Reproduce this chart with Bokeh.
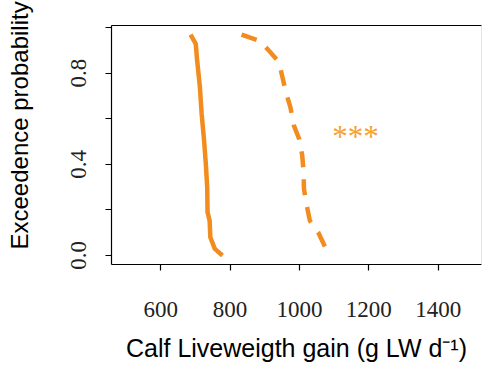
from bokeh.plotting import figure
from bokeh.models import FixedTicker, LinearAxis, Range1d, Span, Label, Title
from bokeh.embed import file_html
from bokeh.resources import INLINE

# Data (exceedence curves)
solid_x = [686, 701, 705, 713, 718, 725, 730, 734, 735, 741, 743, 756, 778]
solid_y = [0.969, 0.928, 0.855, 0.738, 0.621, 0.504, 0.402, 0.300, 0.190, 0.153, 0.080, 0.029, 0.0]
dash_x = [833, 882, 910, 941, 951, 961, 974, 984, 999, 1008, 1012, 1013, 1020, 1030, 1054, 1075]
dash_y = [0.969, 0.943, 0.902, 0.848, 0.782, 0.716, 0.650, 0.570, 0.512, 0.439, 0.365, 0.292, 0.227, 0.153, 0.102, 0.034]
x_ticks = [600, 800, 1000, 1200, 1400]
y_ticks = [0.0, 0.2, 0.4, 0.6, 0.8, 1.0]
y_tick_labels = {0.0: "0.0", 0.2: "", 0.4: "0.4", 0.6: "", 0.8: "0.8", 1.0: ""}
x_title = "Calf Liveweigth gain (g LW d\u207b\u00b9)"
y_title = "Exceedence probability"
sig_label = "***"
sig_x, sig_y = 1162, 0.52

ORANGE = "#F28C1E"

p = figure(width=482, height=368, output_backend="svg", toolbar_location=None,
           x_range=Range1d(458, 1525), y_range=Range1d(-0.0395, 1.009),
           min_border_left=111, min_border_right=1, min_border_top=25, min_border_bottom=104)
p.outline_line_color = None
p.grid.visible = False
p.background_fill_color = "white"
p.border_fill_color = "white"

p.line(solid_x, solid_y, line_color=ORANGE, line_width=4.5)
p.line(dash_x, dash_y, line_color=ORANGE, line_width=4.5, line_dash="16 12")

p.add_layout(Label(x=sig_x, y=sig_y, text=sig_label, text_font="Liberation Serif",
                   text_font_size="31px", text_color="#F7A030",
                   text_align="center", text_baseline="middle"))

# top border line
top = LinearAxis(axis_line_color="black", axis_line_width=1.2, major_tick_line_color=None,
                 minor_tick_line_color=None, major_label_text_font_size="0px",
                 major_label_text_color=None)
p.add_layout(top, "above")
p.add_layout(Span(location=1525, dimension="height", line_color="#c8c8c8", line_width=1))

xa = p.below[0]
xa.ticker = FixedTicker(ticks=x_ticks)
xa.axis_label = x_title
ya = p.left[0]
ya.ticker = FixedTicker(ticks=y_ticks)
ya.major_label_overrides = y_tick_labels
ya.major_label_orientation = "vertical"
ya.axis_label = " "  # spacer so the side title sits further left
ya.axis_label_standoff = 11

# y title as a side title so it can sit a bit above the frame centre like the reference
p.add_layout(Title(text=y_title, align="left", offset=15, standoff=0,
                   text_font="Liberation Sans", text_font_size="24px",
                   text_font_style="normal", text_color="black"), "left")

for ax in (xa, ya):
    ax.axis_line_color = "black"
    ax.axis_line_width = 1.2
    ax.major_tick_line_color = "black"
    ax.major_tick_line_width = 1.2
    ax.major_tick_out = 6
    ax.major_tick_in = 0
    ax.minor_tick_line_color = None
    ax.major_label_text_font = "Liberation Serif"
    ax.major_label_text_font_size = "23px"
    ax.major_label_text_color = "#222222"
    ax.axis_label_text_font = "Liberation Sans"
    ax.axis_label_text_font_style = "normal"
    ax.axis_label_text_color = "black"

xa.major_label_standoff = 31
xa.axis_label_standoff = 14
xa.axis_label_text_font_size = "25px"
ya.major_label_standoff = 19
ya.axis_label_text_font_size = "20px"

open("out.html", "w").write(file_html(p, INLINE))
